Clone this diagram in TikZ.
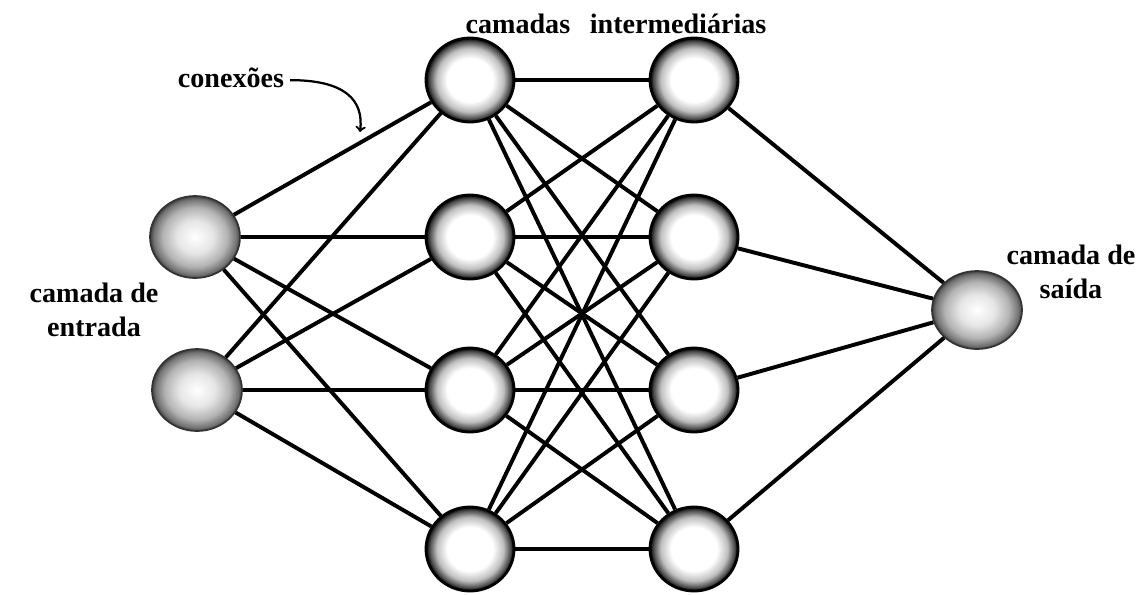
\documentclass[tikz,border=0pt]{standalone}
\usepackage{fontspec}
\setmainfont{Liberation Serif}
\usepackage{tikz}
\usetikzlibrary{shapes.geometric}
\pgfdeclareradialshading{hiddenball}{\pgfpoint{0bp}{0bp}}{color(0bp)=(white); color(13bp)=(white); color(19bp)=(black!25); color(23bp)=(black!70); color(25bp)=(black); color(50bp)=(black)}
\pgfdeclareradialshading{grainball}{\pgfpoint{0bp}{0bp}}{color(0bp)=(white); color(10bp)=(black!10); color(18bp)=(black!30); color(23bp)=(black!55); color(25bp)=(black!75); color(50bp)=(black!75)}

\begin{document}
\begin{tikzpicture}[x=0.025cm,y=-0.025cm,
    neuron/.style={ellipse,draw=black,line width=2pt,shading=hiddenball,minimum width=2.2cm,minimum height=2.1cm,inner sep=0pt},
    ioneuron/.style={neuron,shading=grainball,draw=black!80,line width=1.2pt,minimum width=2.25cm,minimum height=2.05cm},
    link/.style={line width=2.8pt,black},
    lbl/.style={font=\bfseries\fontsize{20}{24}\selectfont,align=center,inner sep=0pt}]
  \useasboundingbox (0,0) rectangle (1138,594);
  \node[ioneuron] (in1) at (195,237) {};
  \node[ioneuron] (in2) at (197,390) {};
  \foreach \n/\y in {1/80,2/237,3/390,4/549} {
    \node[neuron] (ha\n) at (470,\y) {};
    \node[neuron] (hb\n) at (694,\y) {};
  }
  \node[ioneuron,minimum height=1.95cm] (out) at (977,310) {};
  \foreach \i in {1,2} \foreach \j in {1,...,4} \draw[link] (in\i) -- (ha\j);
  \foreach \i in {1,...,4} \foreach \j in {1,...,4} \draw[link] (ha\i) -- (hb\j);
  \foreach \j in {1,...,4} \draw[link] (hb\j) -- (out);
  \node[lbl,anchor=base] (camadas) at (616,33) {camadas\hspace{0.7em}intermediárias};
  \node[lbl,anchor=base] (conx) at (231,87) {conexões};
  \node[lbl] (entrada) at (94,310) {camada de\\entrada};
  \node[lbl] (saida) at (1071,272) {camada de\\saída};
  \coordinate (conxend) at (360,132);
  \draw[->,line width=1.6pt] ([xshift=4pt,yshift=-2pt]conx.east) .. controls (345,80) and (364,100) .. (conxend);
\end{tikzpicture}
\end{document}
